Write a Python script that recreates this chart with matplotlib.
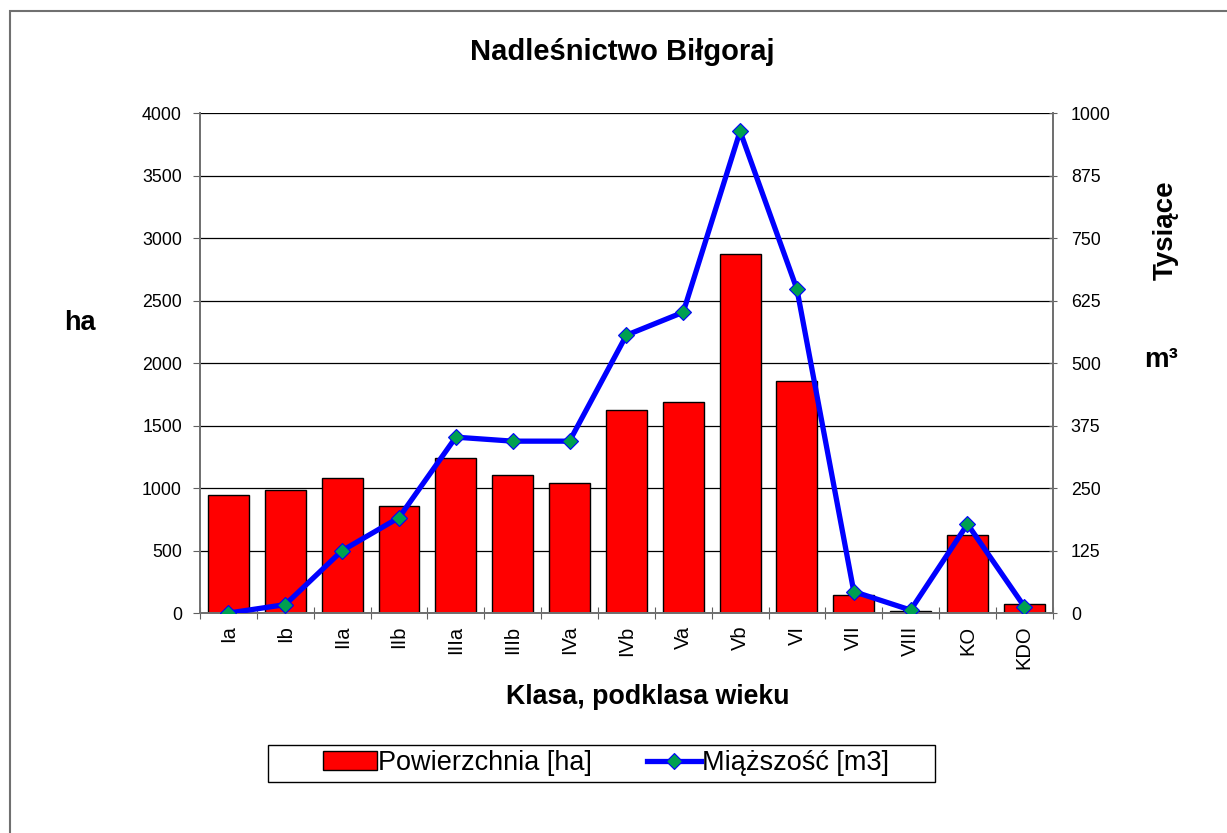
import numpy as np
import matplotlib.pyplot as plt
from matplotlib.patches import Rectangle

plt.rcParams['font.family'] = ['Liberation Sans', 'DejaVu Sans']

# dane
klasy = ['Ia', 'Ib', 'IIa', 'IIb', 'IIIa', 'IIIb', 'IVa', 'IVb', 'Va', 'Vb',
         'VI', 'VII', 'VIII', 'KO', 'KDO']
powierzchnia = [943, 989, 1084, 854, 1245, 1108, 1038, 1623, 1690, 2871,
                1860, 143, 19, 625, 70]
miazszosc = [0, 17, 125, 191, 352, 344, 344, 556, 602, 964,
             648, 43, 6, 178, 13]
ha_ticks = list(range(0, 4001, 500))
m3_ticks = list(range(0, 1001, 125))

fig = plt.figure(figsize=(12.27, 8.33), dpi=100)
ax = fig.add_axes([0.163, 0.264, 0.695, 0.6])
ax2 = ax.twinx()

x = np.arange(len(klasy))
bars = ax.bar(x, powierzchnia, width=0.72, color='#ff0000', edgecolor='black',
              linewidth=1, zorder=2, label='Powierzchnia [ha]')
line, = ax2.plot(x, miazszosc, color='#0000ff', linewidth=3.8, marker='D',
                 markersize=8, markerfacecolor='#00a050', markeredgecolor='#0000ff',
                 markeredgewidth=0.8, zorder=3, label='Miąższość [m3]')

# osie
ax.set_xlim(-0.5, len(klasy) - 0.5)
ax.set_ylim(0, 4000)
ax.set_yticks(ha_ticks)
ax2.set_ylim(0, 1000)
ax2.set_yticks(m3_ticks)
ax.grid(axis='y', color='black', linewidth=0.9, zorder=0)
ax.set_axisbelow(True)

ax.set_xticks(np.arange(len(klasy) + 1) - 0.5)
ax.set_xticklabels([])
ax.set_xticks(x, minor=True)
ax.set_xticklabels(klasy, minor=True, rotation=90, fontsize=14.5)
ax.tick_params(axis='x', which='major', direction='inout', length=9, color='#606060')
ax.tick_params(axis='x', which='minor', length=0, pad=9)
ax.tick_params(axis='y', labelsize=12.8, length=5, color='#606060', pad=8)
ax2.tick_params(axis='y', labelsize=12.8, length=6, direction='inout', color='#606060', pad=10)

for a in (ax, ax2):
    for s in a.spines.values():
        s.set_color('#707070')
        s.set_linewidth(1.3)
    a.spines['top'].set_visible(False)

# teksty
fig.text(622 / 1227, 1 - 52 / 833, 'Nadleśnictwo Biłgoraj', ha='center', va='center',
         fontsize=21, fontweight='bold')
fig.text(80 / 1227, 1 - 323 / 833, 'ha', ha='center', va='center',
         fontsize=19.5, fontweight='bold')
fig.text(1166 / 1227, 1 - 230 / 833, 'Tysiące', ha='center', va='center',
         rotation=90, fontsize=20, fontweight='bold')
fig.text(1161 / 1227, 1 - 360 / 833, 'm³', ha='center', va='center',
         fontsize=20, fontweight='bold')
fig.text(648 / 1227, 1 - 697 / 833, 'Klasa, podklasa wieku', ha='center', va='center',
         fontsize=19.3, fontweight='bold')

leg = fig.legend(handles=[bars, line], loc='center', ncol=2,
                 bbox_to_anchor=(606 / 1227, 1 - 763 / 833), fontsize=19.5,
                 frameon=False, handlelength=2.0, handletextpad=0.05,
                 columnspacing=2.0, borderpad=0.2)

# ramka legendy
fig.patches.append(Rectangle((268 / 1227, 1 - 782 / 833), 667 / 1227, 37 / 833,
                             transform=fig.transFigure, fill=False,
                             edgecolor='black', linewidth=1))

# ramka wykresu
fig.patches.append(Rectangle((10 / 1227, -0.05), 1.1, 1 - 11 / 833 + 0.05,
                             transform=fig.transFigure, fill=False,
                             edgecolor='#707070', linewidth=1.5))

fig.savefig('out.png', dpi=100)
